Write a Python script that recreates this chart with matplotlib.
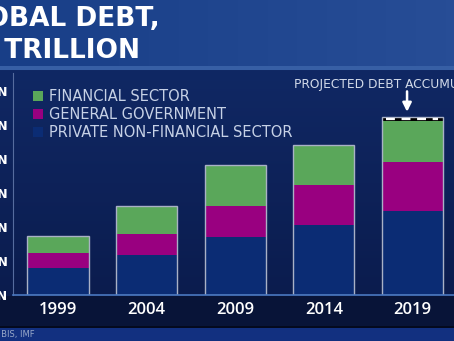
import numpy as np
import matplotlib.pyplot as plt

# global debt by sector, $ trillion
years = ["1999", "2004", "2009", "2014", "2019"]
private_nonfin = [40, 59, 85, 103, 124]
general_gov = [22, 31, 46, 59, 71]
financial = [25, 40, 60, 59, 60]
projected = [0, 0, 0, 0, 7]
yticks = [0, 50, 100, 150, 200, 250, 300]

W, H = 454, 341
fig = plt.figure(figsize=(W / 100, H / 100), dpi=100)

# background panels
bg = np.zeros((H, W, 3))
rows = np.arange(H)[:, None]
cols = np.arange(W)[None, :]
top = np.array([24, 62, 135]) / 255
main_a = np.array([16, 40, 100]) / 255
main_b = np.array([11, 28, 78]) / 255
for c in range(3):
    hdr = top[c] + 0.06 * (cols / W) * (rows < 68)
    t = np.clip((rows - 70) / 225, 0, 1)
    mid = main_a[c] * (1 - t) + main_b[c] * t
    bg[..., c] = np.where(rows < 68, hdr, mid)
bg[66:70] = np.array([55, 95, 165]) / 255
bg[296:326] = np.array([8, 20, 56]) / 255
bg[326:328] = np.array([4, 10, 30]) / 255
bg[328:] = np.array([18, 48, 128]) / 255
bax = fig.add_axes([0, 0, 1, 1])
bax.imshow(bg, aspect="auto", extent=(0, W, H, 0))
bax.set_axis_off()

ax = fig.add_axes([13 / W, (H - 295) / H, (W - 13) / W, (295 - 73) / H])
ax.set_facecolor("none")
x = np.arange(len(years))
w = 0.69
green, magenta, navy = "#5aa75a", "#990080", "#0b2c74"

b1 = ax.bar(x, private_nonfin, w, color=navy, label="PRIVATE NON-FINANCIAL SECTOR")
b2 = ax.bar(x, general_gov, w, bottom=private_nonfin, color=magenta, label="GENERAL GOVERNMENT")
base2 = np.add(private_nonfin, general_gov)
b3 = ax.bar(x, financial, w, bottom=base2, color=green, label="FINANCIAL SECTOR")
base3 = base2 + np.array(financial)
ax.bar(x, projected, w, bottom=base3, color="black")
totals = base3 + np.array(projected)

# light outline around each stack
ax.bar(x, totals, w, fill=False, edgecolor="#a9b1c6", linewidth=1)

# dashed band for the projected part
for i, p in enumerate(projected):
    if p:
        yy = base3[i] + p / 2
        ax.plot([i - w / 2 + 0.05, i + w / 2 - 0.05], [yy, yy], color="white",
                lw=1.6, dashes=(4, 3))
        ax.annotate("", xy=(i - 0.06, totals[i] + 7), xytext=(i - 0.06, totals[i] + 37),
                    arrowprops=dict(arrowstyle="-|>", color="white", lw=1.8,
                                    mutation_scale=13, shrinkA=0, shrinkB=0))

ax.text(2.66, totals[-1] + 47, "PROJECTED DEBT ACCUMULATION", color="#d3dbea",
        fontsize=8.8, va="center", ha="left", clip_on=False)

ax.set_xlim(-0.508, 4.47)
ax.set_ylim(0, 326)
ax.set_yticks(yticks)
ax.set_yticklabels([f"${v} TRILLION" for v in yticks], color="white",
                   fontsize=9, fontweight="bold")
ax.set_xticks(x)
ax.set_xticklabels(years, color="white", fontsize=12, family="Open Sans",
                   fontweight="semibold")
ax.tick_params(axis="y", length=0, pad=4)
ax.tick_params(axis="x", length=0, pad=5)
for s in ["top", "right"]:
    ax.spines[s].set_visible(False)
ax.spines["left"].set_color("#566c9e")
ax.spines["bottom"].set_color("#4a78c0")
ax.spines["bottom"].set_linewidth(1.2)

leg = ax.legend(handles=[b3, b2, b1], loc="upper left",
                bbox_to_anchor=(33 / W, (H - 89) / H), bbox_transform=fig.transFigure,
                frameon=False, handlelength=0.67, handleheight=0.67,
                handletextpad=0.45, labelspacing=0.2, borderpad=0, borderaxespad=0,
                prop=dict(size=10.5))
for t in leg.get_texts():
    t.set_color("#c6d1e6")

# title
fig.text(160 / W, 1 - 19 / H, "GLOBAL DEBT,", color="white", fontsize=19,
         fontweight="bold", ha="right", va="center")
fig.text(140 / W, 1 - 50.5 / H, "IN $ TRILLION", color="white", fontsize=19,
         fontweight="bold", ha="right", va="center")
fig.text(35 / W, 1 - 334 / H, "SOURCE: IIF, BIS, IMF", color="#98a8c8",
         fontsize=6, ha="right", va="center")

fig.savefig("out.png", dpi=100)
